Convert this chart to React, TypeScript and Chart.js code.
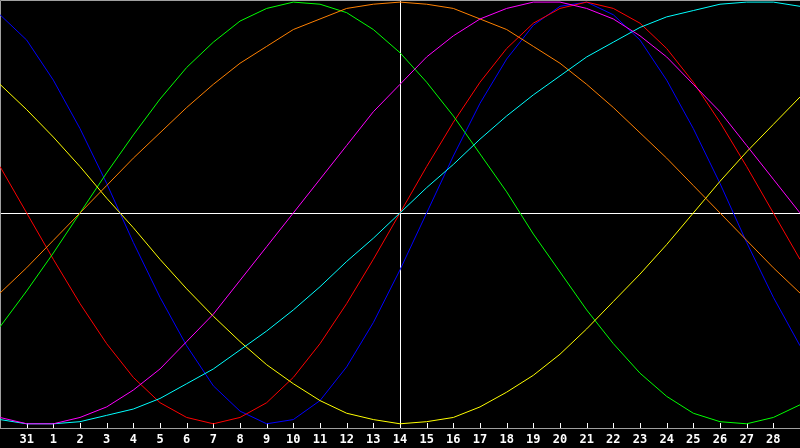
import React, { useEffect, useRef } from 'react';
import { Chart, registerables } from 'chart.js';

Chart.register(...registerables);

// Day labels (index 0 and last are the edge days, not labelled)
const days = ['30', '31', '1', '2', '3', '4', '5', '6', '7', '8', '9', '10', '11', '12', '13', '14', '15', '16', '17', '18', '19', '20', '21', '22', '23', '24', '25', '26', '27', '28', '29'];
const todayIndex = 15;

// Cycle values in percent
const physical = [94, 82, 63, 40, 14, -14, -40, -63, -82, -94, -100, -98, -89, -73, -52, -27, 0, 27, 52, 73, 89, 98, 100, 94, 82, 63, 40, 14, -14, -40, -63];
const emotional = [22, 0, -22, -43, -62, -78, -90, -97, -100, -97, -90, -78, -62, -43, -22, 0, 22, 43, 62, 78, 90, 97, 100, 97, 90, 78, 62, 43, 22, 0, -22];
const intellectual = [-54, -37, -19, 0, 19, 37, 54, 69, 81, 91, 97, 100, 99, 95, 87, 76, 62, 46, 28, 10, -10, -28, -46, -62, -76, -87, -95, -99, -100, -97, -91];
const intuitive = [-97, -100, -100, -97, -92, -84, -74, -61, -48, -32, -16, 0, 16, 32, 48, 61, 74, 84, 92, 97, 100, 100, 97, 92, 84, 74, 61, 48, 32, 16, 0];
const aesthetic = [61, 49, 36, 22, 7, -7, -22, -36, -49, -61, -72, -81, -89, -95, -98, -100, -99, -97, -92, -85, -77, -67, -55, -42, -29, -15, 0, 15, 29, 42, 55];
const awareness = [-38, -26, -13, 0, 13, 26, 38, 50, 61, 71, 79, 87, 92, 97, 99, 100, 99, 97, 92, 87, 79, 71, 61, 50, 38, 26, 13, 0, -13, -26, -38];
const spiritual = [-98, -100, -100, -99, -96, -93, -88, -81, -74, -65, -56, -46, -35, -23, -12, 0, 12, 23, 35, 46, 56, 65, 74, 81, 88, 93, 96, 99, 100, 100, 98];

const series = [
  { name: 'Intuitive', data: intuitive, color: '#ff00ff' },
  { name: 'Spiritual', data: spiritual, color: '#00ffff' },
  { name: 'Awareness', data: awareness, color: '#ff8000' },
  { name: 'Aesthetic', data: aesthetic, color: '#ffff00' },
  { name: 'Intellectual', data: intellectual, color: '#00ff00' },
  { name: 'Emotional', data: emotional, color: '#ff0000' },
  { name: 'Physical', data: physical, color: '#0000ff' },
];

const framePlugin = {
  id: 'frame',
  beforeDraw(chart: any) {
    const { ctx, width, height } = chart;
    ctx.save();
    ctx.fillStyle = '#000000';
    ctx.fillRect(0, 0, width, height);
    ctx.restore();
  },
  beforeDatasetsDraw(chart: any) {
    const { ctx, chartArea: a, scales } = chart;
    const x = scales.x;
    const y = scales.y;
    ctx.save();
    ctx.lineWidth = 1;
    ctx.strokeStyle = '#ffffff';
    const y0 = Math.round(y.getPixelForValue(0)) + 0.5;
    const x0 = Math.round(x.getPixelForValue(todayIndex)) + 0.5;
    ctx.beginPath();
    ctx.moveTo(a.left, y0);
    ctx.lineTo(a.right, y0);
    ctx.moveTo(x0, a.top);
    ctx.lineTo(x0, a.bottom);
    for (let i = 1; i < days.length - 1; i++) {
      const px = Math.round(x.getPixelForValue(i)) + 0.5;
      ctx.moveTo(px, a.bottom - 5);
      ctx.lineTo(px, a.bottom);
    }
    ctx.stroke();
    ctx.strokeStyle = '#a0a0a0';
    ctx.beginPath();
    ctx.moveTo(0.5, a.bottom);
    ctx.lineTo(0.5, 0.5);
    ctx.lineTo(a.right, 0.5);
    ctx.stroke();
    ctx.restore();
  },
};

export default function App() {
  const ref = useRef<HTMLCanvasElement | null>(null);

  useEffect(() => {
    document.body.style.margin = '0';
    document.body.style.background = '#000000';
    const canvas = ref.current;
    if (!canvas) return;
    const chart = new Chart(canvas, {
      type: 'line',
      data: {
        labels: days,
        datasets: series.map((s) => ({
          label: s.name,
          data: s.data,
          borderColor: s.color,
          backgroundColor: s.color,
          borderWidth: 1,
          pointRadius: 0,
          pointHoverRadius: 0,
          tension: 0,
          fill: false,
          clip: false,
        })),
      },
      options: {
        animation: false,
        responsive: false,
        devicePixelRatio: 1,
        layout: { padding: 0, autoPadding: false },
        plugins: {
          legend: { display: false },
          tooltip: { enabled: false },
        },
        scales: {
          x: {
            type: 'category',
            offset: false,
            grid: { display: false, drawTicks: false },
            border: { display: true, color: '#a0a0a0', width: 1 },
            ticks: {
              autoSkip: false,
              maxRotation: 0,
              minRotation: 0,
              padding: 4.5,
              color: '#ffffff',
              font: { family: '"DejaVu Sans Mono", monospace', size: 12, weight: 'bold' },
              callback: (_v: any, i: number) => (i === 0 || i === days.length - 1 ? '' : days[i]),
            },
            afterFit: (scale: any) => {
              scale.height = 20;
              scale.paddingLeft = 0;
              scale.paddingRight = 0;
            },
          },
          y: {
            display: false,
            min: -102,
            max: 101,
          },
        },
      },
      plugins: [framePlugin],
    });
    return () => chart.destroy();
  }, []);

  return (
    <div style={{ width: 800, height: 448, background: '#000000' }}>
      <canvas ref={ref} width={800} height={448} style={{ display: 'block' }} />
    </div>
  );
}
